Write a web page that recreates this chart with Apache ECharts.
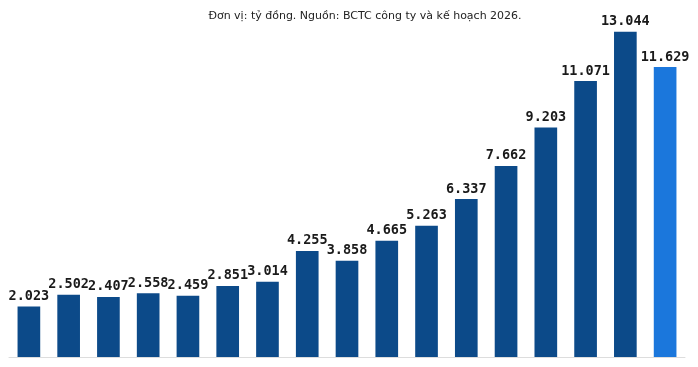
<!DOCTYPE html>
<html><head><meta charset="utf-8">
<script src="https://cdn.jsdelivr.net/npm/echarts@6/dist/echarts.min.js"></script>
<style>html,body{margin:0;padding:0;background:#fff}#c{width:698px;height:367px}</style>
</head><body><div id="c"></div>
<script>
const categories = ['2010','2011','2012','2013','2014','2015','2016','2017','2018','2019','2020','2021','2022','2023','2024','2025','2026'];
const values = [2023,2502,2407,2558,2459,2851,3014,4255,3858,4665,5263,6337,7662,9203,11071,13044,11629];
const labels = ['2.023','2.502','2.407','2.558','2.459','2.851','3.014','4.255','3.858','4.665','5.263','6.337','7.662','9.203','11.071','13.044','11.629'];
const titleText = 'Đơn vị: tỷ đồng. Nguồn: BCTC công ty và kế hoạch 2026.';
const chart = echarts.init(document.getElementById('c'));
chart.setOption({
  animation:false,
  title:{text:titleText,left:360,textAlign:'center',top:6,textStyle:{fontFamily:'DejaVu Sans',fontSize:11,fontWeight:'normal',color:'#222'}},
  grid:{left:9,right:13,top:8,bottom:10,containLabel:false},
  xAxis:{type:'category',data:categories,axisLine:{lineStyle:{color:'#ddd'}},axisTick:{show:false},axisLabel:{show:false}},
  yAxis:{type:'value',min:0,max:14000,show:false,splitLine:{show:false}},
  series:[{type:'bar',barWidth:'57%',
    data:values.map((v,i)=>({value:v,itemStyle:{color:i===values.length-1?'#1b77dc':'#0c4a89'}})),
    label:{show:true,position:'top',distance:3,formatter:p=>labels[p.dataIndex],fontFamily:'DejaVu Sans Mono',fontWeight:'bold',fontSize:13.5,color:'#1a1a1a'}
  }]
});
</script></body></html>
